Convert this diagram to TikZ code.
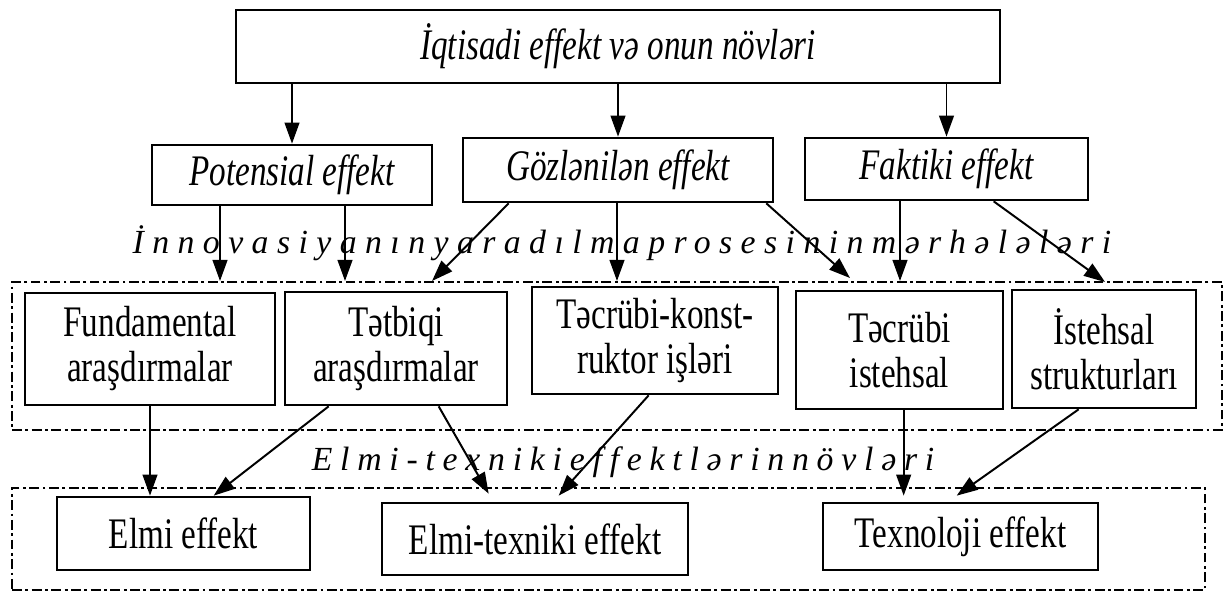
\documentclass[tikz,border=0pt]{standalone}
\usepackage{fontspec}
\setmainfont{Liberation Serif}
\usetikzlibrary{arrows.meta,calc}

\tikzset{
	box/.style={draw, line width=1.9pt, inner sep=0pt, align=center, font=\fontsize{31}{32}\selectfont\addfontfeature{FakeStretch=0.76}},
	ibox/.style={box, font=\fontsize{31}{32}\selectfont\itshape\addfontfeature{FakeStretch=0.76}},
	frame/.style={draw, line width=1.7pt, dash pattern=on 7pt off 2.5pt on 2pt off 2.5pt},
	arr/.style={-{Triangle[length=15pt,width=10.5pt]}, line width=1.4pt},
	spaced/.style={inner sep=0pt, font=\fontsize{24}{30}\selectfont\itshape\addfontfeature{LetterSpace=25}}
}

\begin{document}
\begin{tikzpicture}[x=0.025cm,y=-0.025cm]

	\def\u{0.025cm}		% one pixel of the picture
	\useasboundingbox (0,0) rectangle (1232,597);

	% the two dash-dot frames
	\node[frame, minimum width=1210*\u, minimum height=148*\u] (stages) at (617,356) {};
	\node[frame, minimum width=1193*\u, minimum height=102*\u] (kinds) at (608.5,539) {};

	% economic effect and its kinds
	\node[ibox, minimum width=764*\u, minimum height=73*\u] (top) at (618,46.5) {İqtisadi effekt və onun növləri};
	\node[ibox, minimum width=280*\u, minimum height=60*\u] (pot) at (292,175) {Potensial effekt};
	\node[ibox, minimum width=310*\u, minimum height=64*\u] (goz) at (618,170) {Gözlənilən effekt};
	\node[ibox, minimum width=283*\u, minimum height=62*\u] (fak) at (946.5,169) {Faktiki effekt};

	\node[spaced] (stagelbl) at (622,243) {İnnovasiyanınyaradılmaprosesininmərhələləri};
	\node[spaced, font=\fontsize{24}{30}\selectfont\itshape\addfontfeature{LetterSpace=23}] (kindlbl) at (623,462) {Elmi-texnikieffektlərinnövləri};

	% stages of the innovation process
	\foreach \name/\x/\y/\w/\h/\txt in {
		fund/150/349/250/112/{Fundamental\\araşdırmalar},
		tetb/396/348.5/222/113/{Tətbiqi\\araşdırmalar},
		tecr/655/340.5/246/107/{Təcrübi-konst-\\ruktor işləri},
		tist/899.5/350/207/118/{Təcrübi\\istehsal},
		ist/1104/349/184/118/{İstehsal\\strukturları}}{
		\node[box, minimum width=\w*\u, minimum height=\h*\u] (\name) at (\x,\y) {\txt};
	}

	% scientific and technical effects
	\node[box, minimum width=253*\u, minimum height=73*\u] (elmi) at (183.5,533.5) {Elmi effekt};
	\node[box, minimum width=306*\u, minimum height=72*\u] (eltex) at (535,539) {Elmi-texniki effekt};
	\node[box, minimum width=275*\u, minimum height=67*\u] (texn) at (960.5,536.5) {Texnoloji effekt};

	% arrows from the top box
	\foreach \to in {pot,goz,fak}{
		\draw[arr] (top.south -| \to.north) -- (\to.north);
	}

	% arrows onto the upper frame
	\foreach \from/\x in {pot/220,pot/345,goz/617,fak/900}{
		\coordinate (in\x) at (\x,281);
		\draw[arr] (\from.south -| in\x) -- (in\x);
	}
	\coordinate (in432) at (432,281);
	\coordinate (in850) at (850,278);
	\coordinate (in1105) at (1105,282);
	\draw[arr] ($(goz.south west)+(47,0)$) -- (in432);
	\draw[arr] ($(goz.south east)+(-8,0)$) -- (in850);
	\draw[arr] ($(fak.south west)+(190,0)$) -- (in1105);

	% arrows down to the effects
	\draw[arr] (fund.south) -- (fund.south |- elmi.north);
	\draw[arr] ($(tetb.south west)+(45,0)$) -- ($(elmi.north west)+(158,0)$);
	\draw[arr] ($(tetb.south west)+(155,0)$) -- ($(eltex.north west)+(108,-8)$);
	\draw[arr] ($(tecr.south west)+(118,0)$) -- ($(eltex.north west)+(178,-6)$);
	\draw[arr] ($(tist.south west)+(109,0)$) -- ($(texn.north west)+(82,-6)$);
	\draw[arr] ($(ist.south west)+(68,0)$) -- ($(texn.north west)+(135,-6)$);

\end{tikzpicture}
\end{document}
